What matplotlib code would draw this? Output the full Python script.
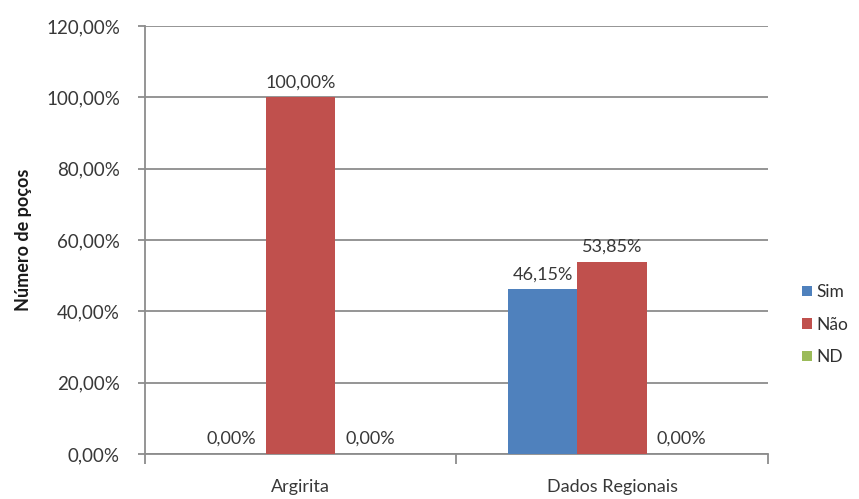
import numpy as np
import matplotlib.pyplot as plt
from matplotlib.ticker import FuncFormatter

plt.rcParams['font.family'] = ['Lato', 'DejaVu Sans']

categories = ["Argirita", "Dados Regionais"]
series = ["Sim", "Não", "ND"]
sim = [0.0, 46.15]
nao = [100.0, 53.85]
nd = [0.0, 0.0]
colors = ["#4F81BD", "#C0504D", "#9BBB59"]


def pct(v):
    return f"{v:.2f}%".replace(".", ",")


fig = plt.figure(figsize=(8.59, 4.99), dpi=100)
ax = fig.add_axes([0.1688, 0.0902, 0.725, 0.8577])

x = np.arange(len(categories))
w = 1 / 4.5
for i, (name, vals) in enumerate(zip(series, [sim, nao, nd])):
    pos = x + (i - 1) * w
    ax.bar(pos, vals, w, color=colors[i], label=name, zorder=3)
    for p, v in zip(pos, vals):
        ax.text(p, v + 2.0, pct(v), ha="center", va="bottom",
                fontsize=13, color="#383838")

ax.set_xlim(-0.5, 1.5)
ax.set_ylim(0, 120)
ax.set_yticks(np.arange(0, 121, 20))
ax.yaxis.set_major_formatter(FuncFormatter(lambda v, _: pct(v)))
ax.yaxis.grid(True, color="#8c8c8c", linewidth=1.3, zorder=0)

ax.set_xticks(x)
ax.set_xticklabels(categories)
ax.set_xticks([-0.5, 0.5, 1.5], minor=True)
ax.tick_params(axis="x", which="major", length=0, pad=18, labelsize=13,
               labelcolor="#383838")
ax.tick_params(axis="x", which="minor", length=7, color="#8c8c8c", width=1.3)
ax.tick_params(axis="y", length=5, color="#8c8c8c", width=1.3, labelsize=13.5,
               labelcolor="#383838", pad=13)

for s in ["top", "right"]:
    ax.spines[s].set_visible(False)
for s in ["left", "bottom"]:
    ax.spines[s].set_color("#8c8c8c")
    ax.spines[s].set_linewidth(1.3)

ax.set_ylabel("Número de poços", fontsize=13, fontweight="bold",
              color="#1a1a1a", labelpad=10)

ax.legend(loc="center left", bbox_to_anchor=(1.03, 0.302), frameon=False,
          fontsize=12.5, handlelength=0.55, handleheight=0.55,
          handletextpad=0.3, labelspacing=0.95, labelcolor="#303030")

fig.savefig("out.png", dpi=100)
